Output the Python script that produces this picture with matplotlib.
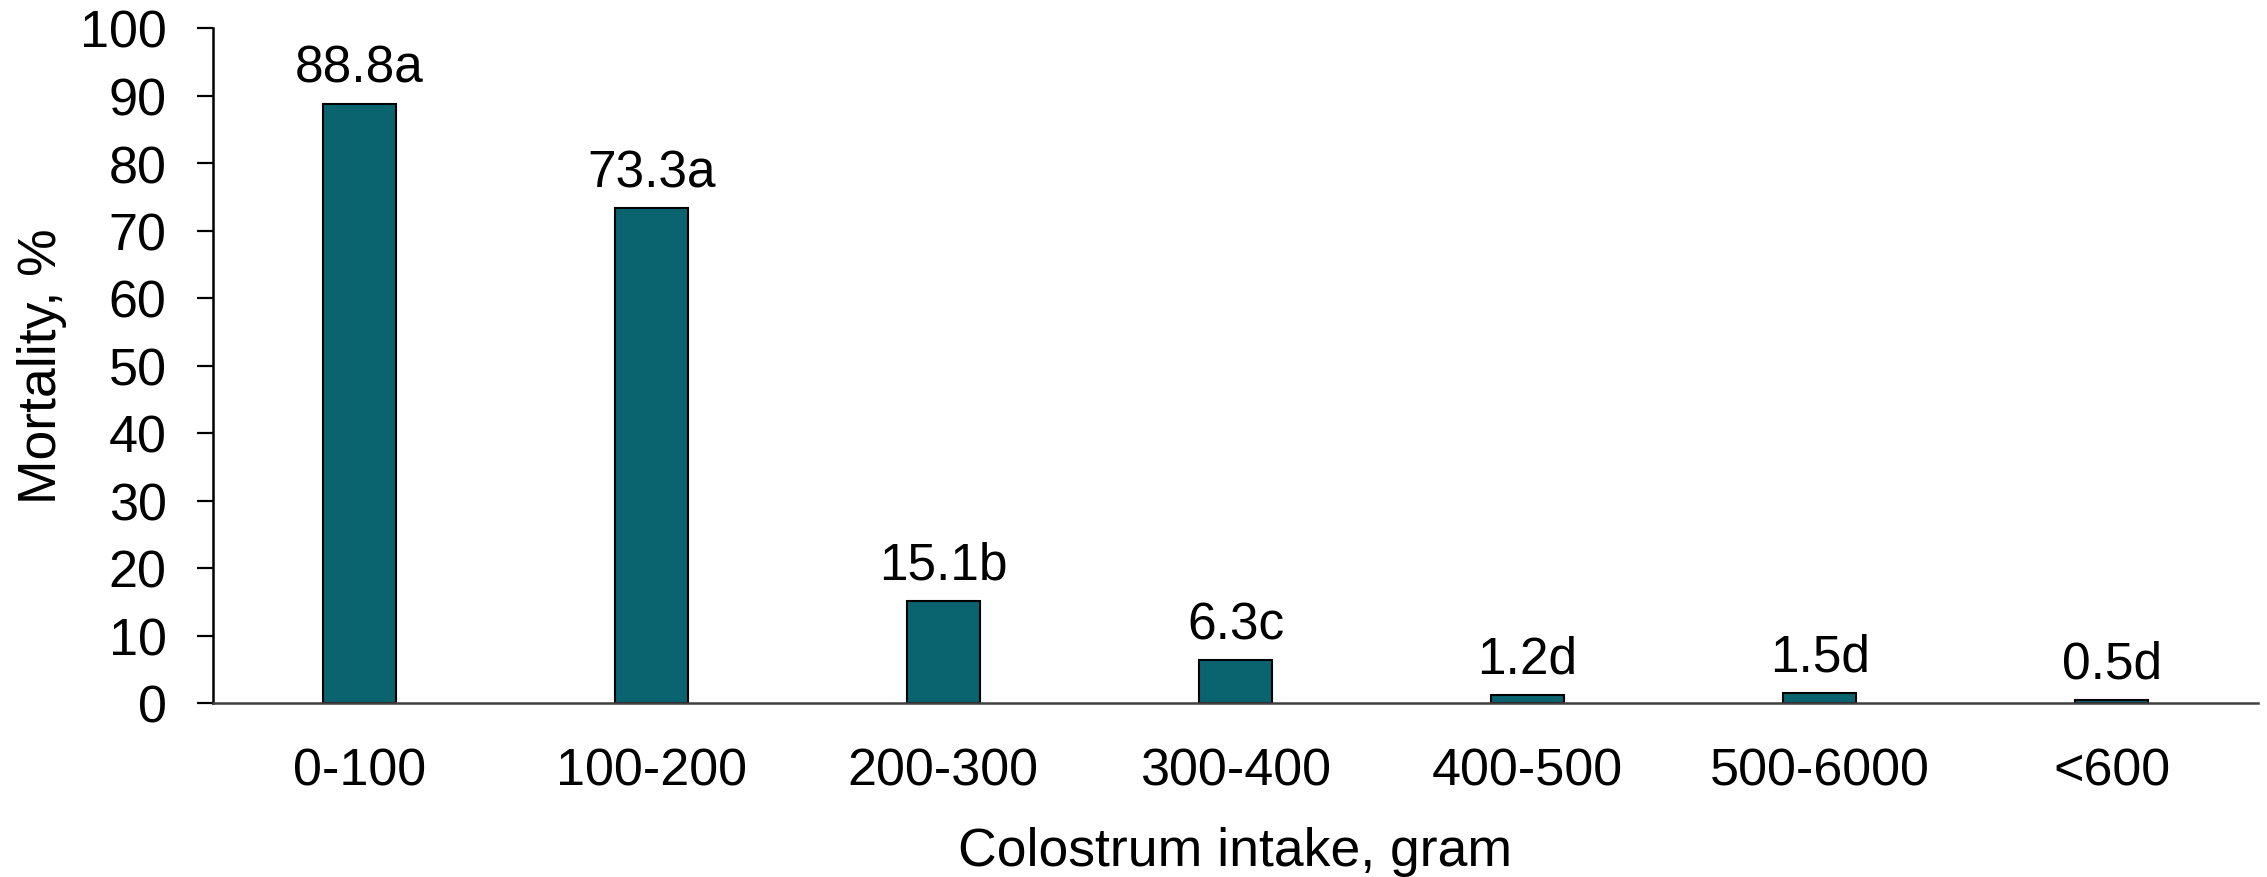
import numpy as np
import matplotlib.pyplot as plt

plt.rcParams['font.family'] = ['Liberation Sans', 'DejaVu Sans']

# Data
categories = ['0-100', '100-200', '200-300', '300-400', '400-500', '500-6000', '<600']
mortality = [88.8, 73.3, 15.1, 6.3, 1.2, 1.5, 0.5]
letters = ['a', 'a', 'b', 'c', 'd', 'd', 'd']

fig = plt.figure(figsize=(22.67, 8.78), dpi=100)
ax = fig.add_axes([213 / 2267, 1 - 704 / 878, (2258 - 213) / 2267, (704 - 29) / 878])

x = np.arange(len(categories))
ax.bar(x, mortality, width=0.25, color='#0A6470', edgecolor='black', linewidth=1.5)

# value labels above the bars
for xi, v, l in zip(x, mortality, letters):
    ax.annotate(f'{v}{l}', (xi, v), xytext=(0, 16), textcoords='offset points',
                ha='center', va='baseline', fontsize=37)

ax.set_xlim(-0.5, 6.5)
ax.set_ylim(0, 100)
ax.set_yticks(np.arange(0, 101, 10))
ax.set_xticks(x)
ax.set_xticklabels(categories)
ax.tick_params(axis='y', labelsize=37.5, length=11.5, width=1.6, pad=22)
ax.tick_params(axis='x', labelsize=37.5, length=0, pad=31)

ax.spines['top'].set_visible(False)
ax.spines['right'].set_visible(False)
ax.spines['left'].set_linewidth(1.8)
ax.spines['bottom'].set_linewidth(1.8)
ax.spines['bottom'].set_color('#404040')

ax.set_xlabel('Colostrum intake, gram', fontsize=38.5, labelpad=22)
ax.set_ylabel('Mortality, %', fontsize=38.5, labelpad=9)

fig.savefig('out.png', dpi=100)
